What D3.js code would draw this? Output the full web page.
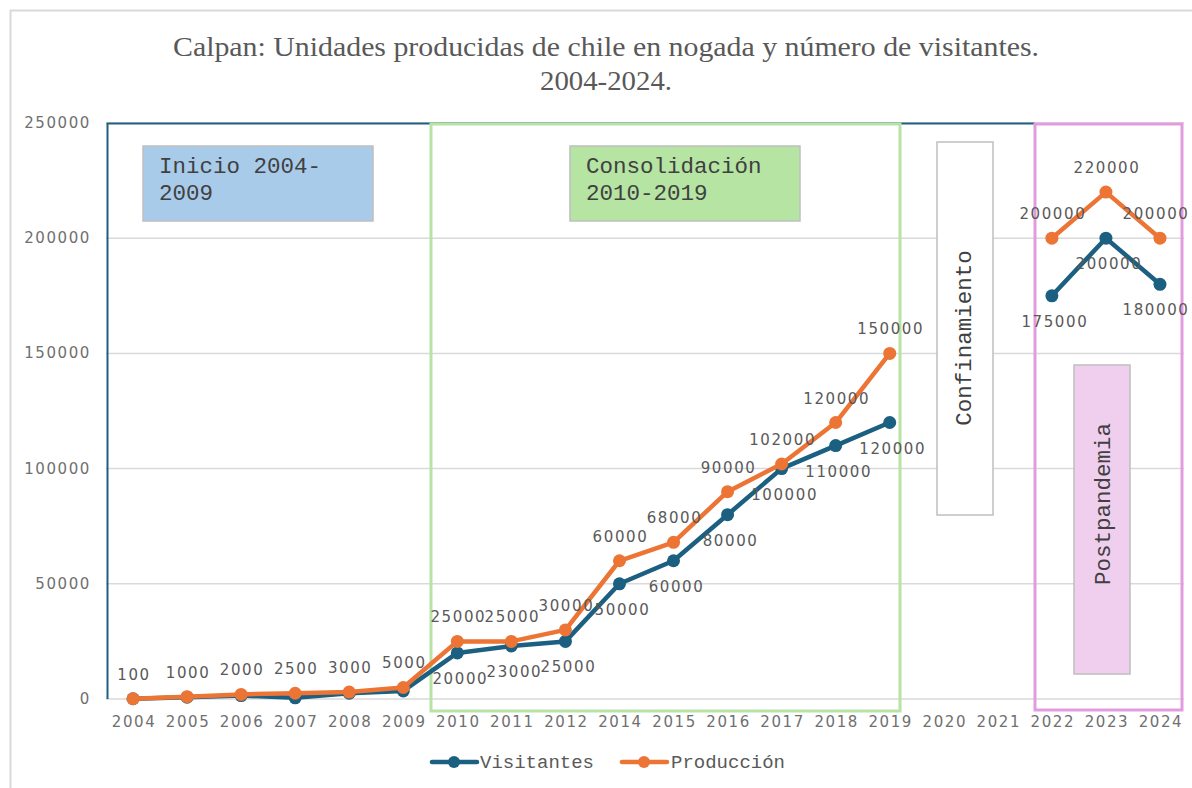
<!DOCTYPE html>
<html>
<head>
<meta charset="utf-8">
<script src="https://cdn.jsdelivr.net/npm/d3@7"></script>
<style>
    body { margin: 0; background: #fff; }
    svg { display: block; }
</style>
</head>
<body>
<div class="svg-container"></div>
<script>
// Years on the category axis (2013 is not in the source chart).
const years = ["2004", "2005", "2006", "2007", "2008", "2009", "2010", "2011", "2012", "2014",
    "2015", "2016", "2017", "2018", "2019", "2020", "2021", "2022", "2023", "2024"];

// Visitantes (2020-2021 empty).
const visitantes = [100, 800, 1500, 500, 2500, 3500, 20000, 23000, 25000, 50000,
    60000, 80000, 100000, 110000, 120000, null, null, 175000, 200000, 180000];

// Producción (2020-2021 empty).
const produccion = [100, 1000, 2000, 2500, 3000, 5000, 25000, 25000, 30000, 60000,
    68000, 90000, 102000, 120000, 150000, null, null, 200000, 220000, 200000];

const yTicks = [0, 50000, 100000, 150000, 200000, 250000];

const seriesNames = ["Visitantes", "Producción"];
const seriesColors = ["#1b5f81", "#ec7434"];

const WIDTH = 1192;
const HEIGHT = 788;
const PLOT = { left: 106, right: 1187, top: 123, bottom: 699 };
const LABEL_MAX_X = 1156; // data labels are kept inside the chart edge
const AXIS_FONT = "'DejaVu Sans', Verdana, sans-serif";
const MONO_FONT = "'Liberation Mono', 'Courier New', monospace";

const x = d3.scaleBand().domain(years).range([PLOT.left, PLOT.right]);
const cx = (year) => x(year) + x.bandwidth() / 2;
const y = d3.scaleLinear().domain([0, 250000]).range([PLOT.bottom, PLOT.top]);

const svg = d3
    .select(".svg-container")
    .append("svg")
    .attr("width", WIDTH)
    .attr("height", HEIGHT);

// Outer chart border (only the top and left edges are visible).
svg.append("path")
    .attr("d", "M10.5," + HEIGHT + " V10.5 H" + WIDTH)
    .attr("fill", "none")
    .attr("stroke", "#d9d9d9")
    .attr("stroke-width", 2);

// Title (stretched a little, as in the original).
const title = svg.append("text")
    .attr("text-anchor", "middle")
    .attr("font-family", "'Liberation Serif', 'Times New Roman', serif")
    .attr("font-size", 27)
    .attr("fill", "#595959");
title.append("tspan").attr("x", 606).attr("y", 56)
    .attr("textLength", 866).attr("lengthAdjust", "spacingAndGlyphs")
    .text("Calpan: Unidades producidas  de chile en nogada  y número de visitantes.");
title.append("tspan").attr("x", 606).attr("y", 90)
    .attr("textLength", 132).attr("lengthAdjust", "spacingAndGlyphs")
    .text("2004-2024.");

// Gridlines
svg.append("g")
    .selectAll("line")
    .data(yTicks)
    .join("line")
    .attr("x1", PLOT.left)
    .attr("x2", 1184)
    .attr("y1", (d) => y(d))
    .attr("y2", (d) => y(d))
    .attr("stroke", "#d9d9d9")
    .attr("stroke-width", 1.5);

// Y axis labels
svg.append("g")
    .selectAll("text")
    .data(yTicks)
    .join("text")
    .attr("x", 91)
    .attr("y", (d) => y(d) + 5)
    .attr("text-anchor", "end")
    .attr("font-family", AXIS_FONT)
    .attr("font-size", 15)
    .attr("letter-spacing", 1.6)
    .attr("fill", "#707070")
    .text((d) => d);

// X axis labels
svg.append("g")
    .selectAll("text")
    .data(years)
    .join("text")
    .attr("x", (d) => cx(d) + 1)
    .attr("y", 727)
    .attr("text-anchor", "middle")
    .attr("font-family", AXIS_FONT)
    .attr("font-size", 15)
    .attr("letter-spacing", 1.6)
    .attr("fill", "#707070")
    .text((d) => d);

// Period frames
svg.append("path")
    .attr("d", "M107.5," + PLOT.bottom + " V" + (PLOT.top + 0.5) + " H1035")
    .attr("fill", "none")
    .attr("stroke", "#1f5f80")
    .attr("stroke-width", 2);
svg.append("rect")
    .attr("x", 431).attr("y", 124).attr("width", 469).attr("height", 587)
    .attr("fill", "none").attr("stroke", "#b7e3a5").attr("stroke-width", 3);
svg.append("rect")
    .attr("x", 1035).attr("y", 124).attr("width", 147).attr("height", 586)
    .attr("fill", "none").attr("stroke", "#e39be0").attr("stroke-width", 3);

// Annotation boxes
const boxes = [
    { x: 143, y: 146, w: 230, h: 75, fill: "#a9cbea", lines: ["Inicio 2004-", "2009"] },
    { x: 570, y: 146, w: 230, h: 75, fill: "#b5e4a3", lines: ["Consolidación", "2010-2019"] },
];
boxes.forEach((b) => {
    svg.append("rect")
        .attr("x", b.x).attr("y", b.y).attr("width", b.w).attr("height", b.h)
        .attr("fill", b.fill).attr("stroke", "#bfbfbf").attr("stroke-width", 1.5);
    const t = svg.append("text")
        .attr("font-family", MONO_FONT)
        .attr("font-size", 22.5)
        .attr("fill", "#404040");
    b.lines.forEach((line, i) =>
        t.append("tspan").attr("x", b.x + 16).attr("y", b.y + 27 + i * 27).text(line)
    );
});

const vBoxes = [
    { x: 937, y: 142, w: 56, h: 373, fill: "#ffffff", label: "Confinamiento", tx: 971, ty: 338 },
    { x: 1074, y: 365, w: 56, h: 309, fill: "#f0cfee", label: "Postpandemia", tx: 1110, ty: 504 },
];
vBoxes.forEach((b) => {
    svg.append("rect")
        .attr("x", b.x).attr("y", b.y).attr("width", b.w).attr("height", b.h)
        .attr("fill", b.fill).attr("stroke", "#bfbfbf").attr("stroke-width", 1.5);
    svg.append("text")
        .attr("transform", "translate(" + b.tx + "," + b.ty + ") rotate(-90)")
        .attr("text-anchor", "middle")
        .attr("font-family", MONO_FONT)
        .attr("font-size", 22.5)
        .attr("fill", "#404040")
        .text(b.label);
});

// Lines
const allSeries = [visitantes, produccion];
const line = d3.line()
    .defined((d) => d.v !== null)
    .x((d) => cx(d.year))
    .y((d) => y(d.v));

allSeries.forEach((values, s) => {
    const pts = years.map((year, i) => ({ year, v: values[i] }));
    const g = svg.append("g");
    g.append("path")
        .datum(pts)
        .attr("d", line)
        .attr("fill", "none")
        .attr("stroke", seriesColors[s])
        .attr("stroke-width", 4.5)
        .attr("stroke-linejoin", "round");
    g.selectAll("circle")
        .data(pts.filter((d) => d.v !== null))
        .join("circle")
        .attr("cx", (d) => cx(d.year))
        .attr("cy", (d) => y(d.v))
        .attr("r", 6.5)
        .attr("fill", seriesColors[s]);
});

// Data labels: Producción above, Visitantes below (from 2010 on).
const labelStyle = (sel) => sel
    .attr("text-anchor", "middle")
    .attr("font-family", AXIS_FONT)
    .attr("font-size", 15)
    .attr("letter-spacing", 1.6)
    .attr("fill", "#595959");

svg.append("g")
    .selectAll("text")
    .data(years.map((year, i) => ({ year, v: produccion[i] })).filter((d) => d.v !== null))
    .join("text")
    .attr("x", (d) => Math.min(cx(d.year) + 1, LABEL_MAX_X))
    .attr("y", (d) => y(d.v) - 19)
    .call(labelStyle)
    .text((d) => d.v);

svg.append("g")
    .selectAll("text")
    .data(years.map((year, i) => ({ year, v: visitantes[i] }))
        .filter((d) => d.v !== null && +d.year >= 2010))
    .join("text")
    .attr("x", (d) => Math.min(cx(d.year) + 3, LABEL_MAX_X))
    .attr("y", (d) => y(d.v) + 31)
    .call(labelStyle)
    .text((d) => d.v);

// Legend
const legendX = [432, 622];
seriesNames.forEach((name, i) => {
    const lg = svg.append("g").attr("transform", "translate(" + legendX[i] + ",762)");
    lg.append("line")
        .attr("x1", 0).attr("x2", 45)
        .attr("stroke", seriesColors[i]).attr("stroke-width", 4.5)
        .attr("stroke-linecap", "round");
    lg.append("circle").attr("cx", 22).attr("r", 6).attr("fill", seriesColors[i]);
    lg.append("text")
        .attr("x", i === 0 ? 48 : 49)
        .attr("y", 6)
        .attr("font-family", MONO_FONT)
        .attr("font-size", 19)
        .attr("fill", "#595959")
        .text(name);
});
</script>
</body>
</html>
